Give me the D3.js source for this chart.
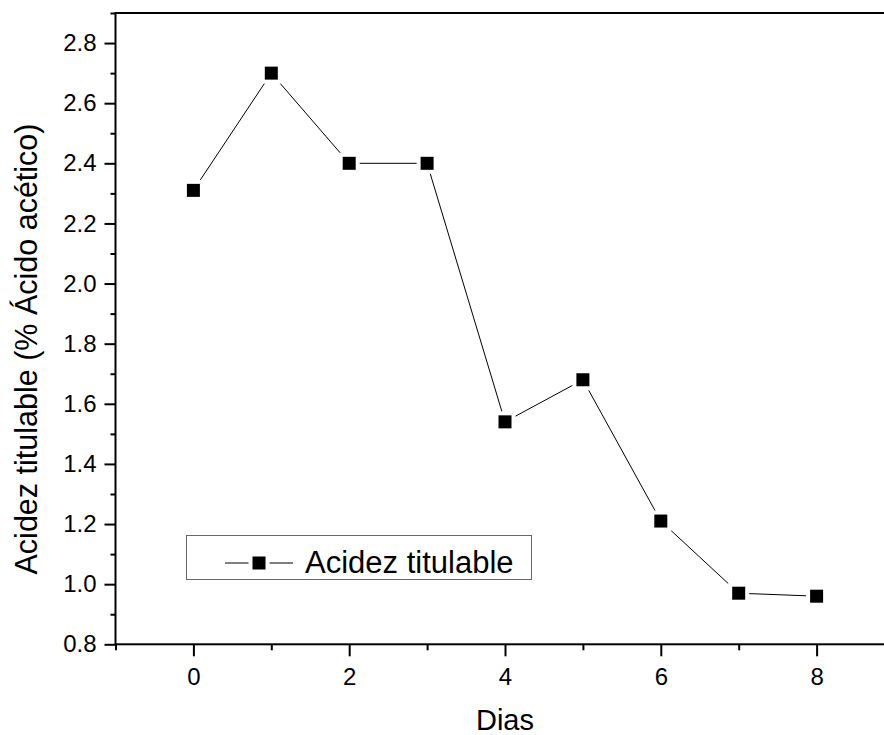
<!DOCTYPE html>
<html>
<head>
<meta charset="utf-8">
<script src="https://cdn.jsdelivr.net/npm/d3@7"></script>
<style>
  body { margin: 0; background: #fff; }
  text { font-family: "Liberation Sans", Arial, sans-serif; fill: #000; }
</style>
</head>
<body>
<div id="chart"></div>
<script>
// Data
const dias = [0, 1, 2, 3, 4, 5, 6, 7, 8];
const acidez = [2.31, 2.70, 2.40, 2.40, 1.54, 1.68, 1.21, 0.97, 0.96];
const xMajor = [0, 2, 4, 6, 8];
const xMinor = [-1, 1, 3, 5, 7, 9];
const yMajor = [0.8, 1.0, 1.2, 1.4, 1.6, 1.8, 2.0, 2.2, 2.4, 2.6, 2.8];
const yMinor = [0.9, 1.1, 1.3, 1.5, 1.7, 1.9, 2.1, 2.3, 2.5, 2.7, 2.9];
const seriesName = "Acidez titulable";

const width = 884, height = 735;
const plot = { left: 115.5, right: 894.5, top: 13, bottom: 644.3 };

const svg = d3.select("#chart")
              .append("svg")
              .attr("width", width)
              .attr("height", height);

const x = d3.scaleLinear().domain([-1, 9]).range([plot.left, plot.right]);
const y = d3.scaleLinear().domain([0.8, 2.9]).range([plot.bottom, plot.top]);

// Bottom axis with major + minor ticks
const gx = svg.append("g").attr("transform", `translate(0, ${plot.bottom})`);
gx.call(d3.axisBottom(x).tickValues(xMajor).tickSize(12).tickPadding(12).tickFormat(d3.format("d")));
gx.append("g").call(d3.axisBottom(x).tickValues(xMinor).tickSize(6).tickFormat(""));

// Left axis
const gy = svg.append("g").attr("transform", `translate(${plot.left}, 0)`);
gy.call(d3.axisLeft(y).tickValues(yMajor).tickSize(11).tickPadding(8).tickFormat(d3.format(".1f")));
gy.append("g").call(d3.axisLeft(y).tickValues(yMinor).tickSize(5).tickFormat(""));

svg.selectAll(".domain").remove();
svg.selectAll(".tick line").attr("stroke", "#000").attr("stroke-width", 2);
svg.selectAll(".tick text").style("font-size", "24px");

// Frame
svg.append("rect")
   .attr("x", plot.left)
   .attr("y", plot.top)
   .attr("width", plot.right - plot.left)
   .attr("height", plot.bottom - plot.top)
   .attr("fill", "none")
   .attr("stroke", "#000")
   .attr("stroke-width", 2);

// Series line
const line = d3.line()
               .x((d, i) => x(dias[i]))
               .y(d => y(d));

svg.append("path")
   .datum(acidez)
   .attr("d", line)
   .attr("fill", "none")
   .attr("stroke", "#000")
   .attr("stroke-width", 1);

// Markers, with white halo to leave a gap in the line
const m = 13, gap = 4;
svg.selectAll(".halo")
   .data(acidez)
   .join("rect")
   .attr("x", (d, i) => x(dias[i]) - m / 2 - gap)
   .attr("y", d => y(d) - m / 2 - gap)
   .attr("width", m + 2 * gap)
   .attr("height", m + 2 * gap)
   .attr("fill", "#fff");

svg.selectAll(".marker")
   .data(acidez)
   .join("rect")
   .attr("x", (d, i) => x(dias[i]) - m / 2)
   .attr("y", d => y(d) - m / 2)
   .attr("width", m)
   .attr("height", m)
   .attr("fill", "#000");

// Legend
const lg = svg.append("g");
lg.append("rect")
  .attr("x", 186.5).attr("y", 535.5)
  .attr("width", 345).attr("height", 44)
  .attr("fill", "#fff")
  .attr("stroke", "#666")
  .attr("stroke-width", 1);
lg.append("line")
  .attr("x1", 225).attr("x2", 293)
  .attr("y1", 563).attr("y2", 563)
  .attr("stroke", "#000").attr("stroke-width", 1);
lg.append("rect")
  .attr("x", 259 - 6.5 - gap).attr("y", 563 - 6.5 - gap)
  .attr("width", m + 2 * gap).attr("height", m + 2 * gap)
  .attr("fill", "#fff");
lg.append("rect")
  .attr("x", 259 - 6.5).attr("y", 563 - 6.5)
  .attr("width", m).attr("height", m)
  .attr("fill", "#000");
lg.append("text")
  .attr("x", 305).attr("y", 573)
  .style("font-size", "31px")
  .text(seriesName);

// Axis titles
svg.append("text")
   .attr("x", (plot.left + plot.right) / 2)
   .attr("y", 730)
   .attr("text-anchor", "middle")
   .style("font-size", "29px")
   .text("Dias");

svg.append("text")
   .attr("transform", "translate(37, 349) rotate(-90)")
   .attr("text-anchor", "middle")
   .style("font-size", "30.5px")
   .text("Acidez titulable (% Ácido acético)");
</script>
</body>
</html>
